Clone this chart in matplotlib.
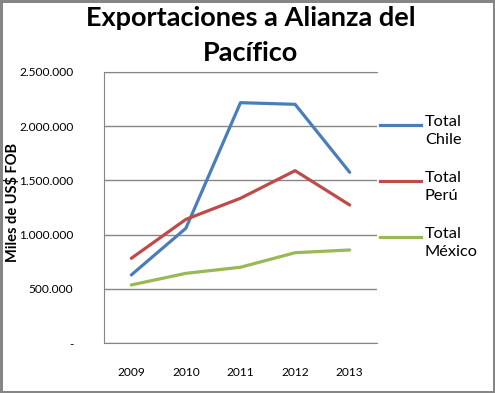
import matplotlib.pyplot as plt
from matplotlib.lines import Line2D
from matplotlib.ticker import FuncFormatter

years = ['2009', '2010', '2011', '2012', '2013']
chile = [629000, 1059000, 2215000, 2200000, 1574000]
peru = [782000, 1141000, 1335000, 1589000, 1273000]
mexico = [537000, 644000, 700000, 834000, 859000]
series_names = ['Total\nChile', 'Total\nPerú', 'Total\nMéxico']
colors = ['#4A7EBB', '#BE4B48', '#98B954']

plt.rcParams['font.family'] = ['Lato', 'DejaVu Sans']

fig = plt.figure(figsize=(4.95, 3.93), dpi=100)
fig.patch.set_edgecolor('#868686')
fig.patch.set_linewidth(2.5)

ax = fig.add_axes([0.2101, 0.1265, 0.5515, 0.691])
x = range(len(years))
for vals, c in zip([chile, peru, mexico], colors):
    ax.plot(x, vals, color=c, linewidth=2.3, solid_capstyle='round', zorder=3)

ax.set_xlim(-0.5, len(years) - 0.5)
ax.set_ylim(0, 2500000)
ax.set_yticks(range(0, 2500001, 500000))
ax.yaxis.set_major_formatter(FuncFormatter(lambda v, p: '-' if v == 0 else f'{int(v):,}'.replace(',', '.')))
ax.set_xticks(list(x))
ax.set_xticklabels(years)
ax.tick_params(axis='both', length=0, labelsize=8.6, colors='black')
ax.tick_params(axis='y', pad=22)
ax.tick_params(axis='x', pad=17)
ax.grid(axis='y', color='#868686', linewidth=1)
ax.set_axisbelow(True)
ax.spines['right'].set_visible(False)
for s in ['left', 'bottom', 'top']:
    ax.spines[s].set_color('#868686')

ax.set_ylabel('Miles de US$ FOB', fontsize=10.5, fontweight='bold')
ax.yaxis.set_label_coords(-0.306, 0.52)

fig.text(0.507, 0.985, 'Exportaciones a Alianza del\nPacífico', ha='center', va='top',
         fontsize=19.5, fontweight='bold', linespacing=1.55)

# legend at the right
for i, (name, c) in enumerate(zip(series_names, colors)):
    y = 1 - (125 + i * 56) / 393
    fig.add_artist(Line2D([380 / 495, 421 / 495], [y, y], color=c, linewidth=2.3))
    fig.text(425 / 495, y + 10 / 393, name, ha='left', va='top', fontsize=11.8, linespacing=1.4)

fig.savefig('out.png', dpi=100, edgecolor=fig.get_edgecolor())
